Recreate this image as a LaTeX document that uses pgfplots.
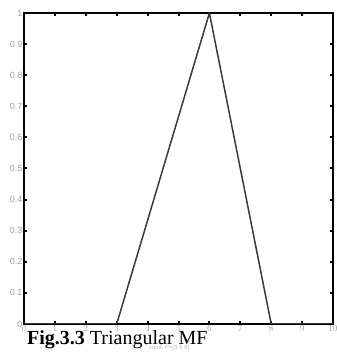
\documentclass[border=0pt]{standalone}
\usepackage{fontspec}
\setmainfont{Liberation Serif}
\newfontfamily\plotfont{Liberation Sans}
\usepackage{pgfplots}
\pgfplotsset{compat=1.18}
\definecolor{ticktext}{HTML}{A0A0A0}
\definecolor{mfline}{HTML}{3A3A3A}

\begin{document}
\begin{tikzpicture}[x=1pt,y=1pt]
\path[use as bounding box] (0,0) rectangle (336,352);
\begin{axis}[
    at={(24pt,28pt)},
    anchor=south west,
    scale only axis,
    width=309pt,
    height=311pt,
    xmin=0, xmax=10,
    ymin=0, ymax=1,
    xtick={0,1,...,10},
    ytick={0,0.1,...,1},
    yticklabels={0,0.1,0.2,0.3,0.4,0.5,0.6,0.7,0.8,0.9,1},
    tick align=inside,
    major tick length=3pt,
    tick style={black, line width=2pt},
    axis line style={black, line width=1.8pt},
    ticklabel style={font=\plotfont\fontsize{9}{9}\selectfont, text=ticktext},
    xticklabel style={yshift=2pt},
    yticklabel style={xshift=2pt},
]
\addplot[mfline, line width=1.5pt] coordinates {
    (0,0) (3,0) (6,1) (8,0) (10,0)
};
\end{axis}
\node[anchor=base west, inner sep=0pt, text=ticktext!70, font=\plotfont\fontsize{6}{6}\selectfont] at (150,2) {trimf, P=[3 6 8]};
\node[anchor=base west, inner sep=0pt, font=\fontsize{20}{20}\selectfont] at (27,7) {\textbf{Fig.3.3} Triangular MF};
\end{tikzpicture}
\end{document}
